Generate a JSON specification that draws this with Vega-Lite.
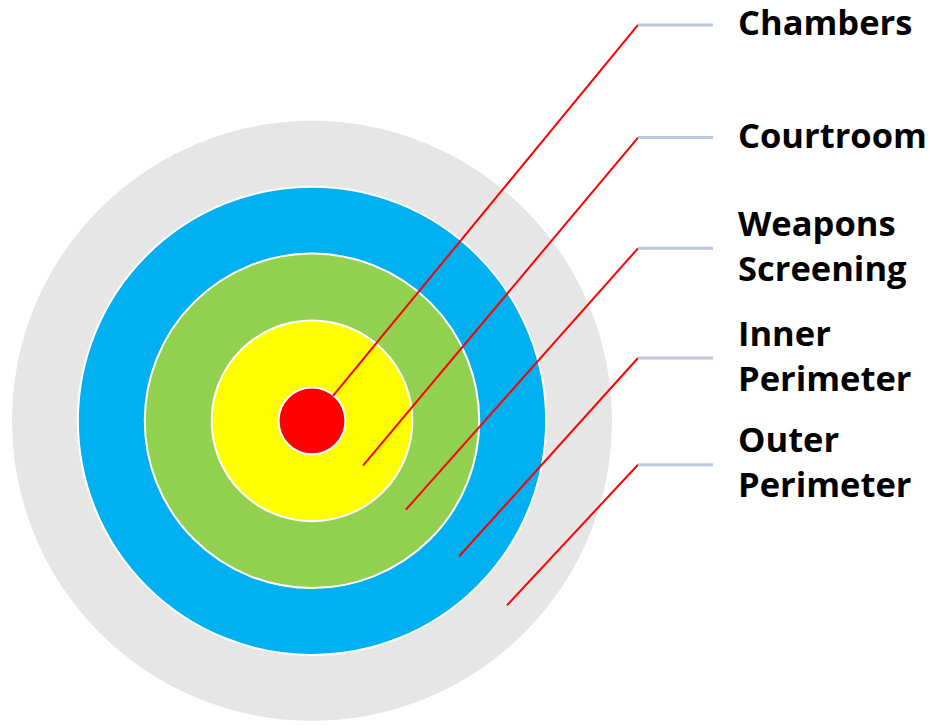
{
  "$schema": "https://vega.github.io/schema/vega-lite/v6.json",
  "width": 934,
  "height": 725,
  "padding": 0,
  "autosize": {"type": "fit", "contains": "padding"},
  "background": "white",
  "config": {"view": {"stroke": null}},
  "datasets": {
    "rings": [
      {"ring": "Outer Perimeter", "level": 9, "cx": 312, "cy": 422},
      {"ring": "Inner Perimeter", "level": 7, "cx": 312, "cy": 422},
      {"ring": "Weapons Screening", "level": 5, "cx": 312, "cy": 422},
      {"ring": "Courtroom", "level": 3, "cx": 312, "cy": 422},
      {"ring": "Chambers", "level": 1, "cx": 312, "cy": 422}
    ],
    "callouts": [
      {"ring": "Chambers", "label": "Chambers", "lines": 1, "px": 333, "py": 397, "ex": 638, "ey": 25, "lx": 713, "tx": 738},
      {"ring": "Courtroom", "label": "Courtroom", "lines": 1, "px": 363, "py": 467, "ex": 638, "ey": 138, "lx": 713, "tx": 738},
      {"ring": "Weapons Screening", "label": "Weapons\nScreening", "lines": 2, "px": 406, "py": 511, "ex": 638, "ey": 249, "lx": 713, "tx": 738},
      {"ring": "Inner Perimeter", "label": "Inner\nPerimeter", "lines": 2, "px": 459, "py": 558, "ex": 638, "ey": 359, "lx": 713, "tx": 738},
      {"ring": "Outer Perimeter", "label": "Outer\nPerimeter", "lines": 2, "px": 507, "py": 607, "ex": 638, "ey": 466, "lx": 713, "tx": 738}
    ]
  },
  "layer": [
    {
      "data": {"name": "rings"},
      "mark": {"type": "point", "shape": "circle", "filled": true, "opacity": 1, "stroke": "white", "strokeWidth": 2},
      "encoding": {
        "x": {"field": "cx", "type": "quantitative", "scale": {"domain": [0, 934], "nice": false, "zero": false}, "axis": null},
        "y": {"field": "cy", "type": "quantitative", "scale": {"domain": [0, 725], "nice": false, "zero": false, "reverse": true}, "axis": null},
        "size": {"field": "level", "type": "quantitative", "scale": {"type": "pow", "exponent": 2, "domain": [0, 9], "range": [0, 362404]}, "legend": null},
        "color": {"field": "ring", "type": "nominal", "scale": {"domain": ["Outer Perimeter", "Inner Perimeter", "Weapons Screening", "Courtroom", "Chambers"], "range": ["#E6E6E6", "#00B0F0", "#92D050", "#FFFF00", "#FF0000"]}, "legend": null},
        "order": {"field": "level", "type": "quantitative", "sort": "descending"}
      }
    },
    {
      "data": {"name": "callouts"},
      "mark": {"type": "rule", "color": "#FF0000", "strokeWidth": 2},
      "encoding": {
        "x": {"field": "px", "type": "quantitative"},
        "y": {"field": "py", "type": "quantitative"},
        "x2": {"field": "ex"},
        "y2": {"field": "ey"}
      }
    },
    {
      "data": {"name": "callouts"},
      "mark": {"type": "rule", "color": "#BCC8DE", "strokeWidth": 3},
      "encoding": {
        "x": {"field": "ex", "type": "quantitative"},
        "y": {"field": "ey", "type": "quantitative"},
        "x2": {"field": "lx"}
      }
    },
    {
      "data": {"name": "callouts"},
      "transform": [{"filter": "datum.lines == 1"}],
      "mark": {"type": "text", "align": "left", "baseline": "middle", "font": "Open Sans", "fontWeight": "bold", "fontSize": 34.5, "lineHeight": 45, "lineBreak": "\n", "color": "black"},
      "encoding": {
        "x": {"field": "tx", "type": "quantitative"},
        "y": {"field": "ey", "type": "quantitative"},
        "text": {"field": "label", "type": "nominal"}
      }
    },
    {
      "data": {"name": "callouts"},
      "transform": [{"filter": "datum.lines == 2"}],
      "mark": {"type": "text", "align": "left", "baseline": "middle", "dy": -22.5, "font": "Open Sans", "fontWeight": "bold", "fontSize": 34.5, "lineHeight": 45, "lineBreak": "\n", "color": "black"},
      "encoding": {
        "x": {"field": "tx", "type": "quantitative"},
        "y": {"field": "ey", "type": "quantitative"},
        "text": {"field": "label", "type": "nominal"}
      }
    }
  ]
}
